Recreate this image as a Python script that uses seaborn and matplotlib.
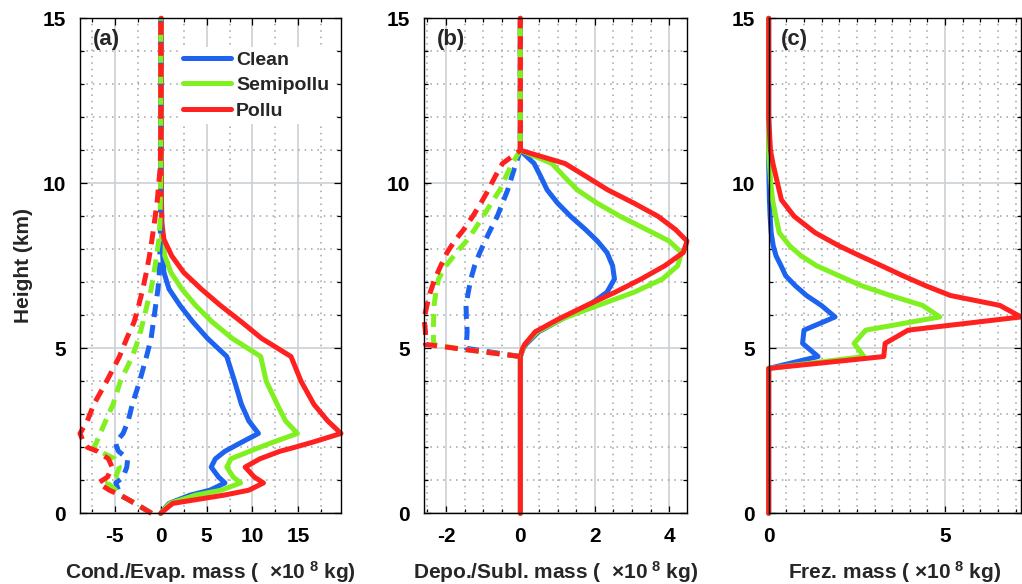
import matplotlib
matplotlib.use("Agg")
import matplotlib.pyplot as plt
from matplotlib.ticker import MultipleLocator
import seaborn as sns

sns.set_style("ticks")
plt.rcParams["font.family"] = ["Liberation Sans", "DejaVu Sans"]
plt.rcParams["font.weight"] = "bold"
plt.rcParams["axes.unicode_minus"] = False
plt.rcParams["mathtext.fontset"] = "custom"
plt.rcParams["mathtext.rm"] = "Liberation Sans:bold"
plt.rcParams["mathtext.bf"] = "Liberation Sans:bold"
plt.rcParams["mathtext.it"] = "Liberation Sans:bold"

# ---------------- data ----------------
cases = ["Clean", "Semipollu", "Pollu"]

# (a) condensation (+) / evaporation (-), 1e8 kg
height_a = [0.0, 0.3, 0.55, 0.7, 0.92, 1.1, 1.4, 1.65, 1.88, 2.0, 2.15, 2.42, 2.8, 3.3,
            4.0, 4.75, 5.3, 5.8, 6.3, 6.8, 7.3, 7.8, 8.3, 8.8, 9.5, 10.5, 11.5, 12.5, 13.5, 15.0]
clean_cond = [0.0, 0.9, 3.2, 5.35, 7.0, 6.3, 5.5, 5.95, 7.0, 7.8, 8.8, 10.65, 9.6, 8.8,
              8.05, 7.2, 5.1, 3.5, 2.1, 0.9, 0.35, 0.22, 0.15, 0.1, 0.08, 0.05, 0.05, 0.05, 0.05, 0.05]
semi_cond = [0.0, 1.0, 3.8, 6.6, 8.7, 7.9, 7.2, 7.65, 9.7, 10.8, 12.2, 14.9, 13.6, 12.7,
             11.5, 10.9, 7.8, 5.6, 3.8, 2.3, 1.1, 0.45, 0.15, 0.1, 0.08, 0.05, 0.05, 0.05, 0.05, 0.05]
pollu_cond = [0.0, 1.3, 6.9, 9.6, 11.2, 10.2, 9.2, 10.8, 13.0, 14.6, 16.5, 19.65, 18.2, 16.7,
              15.3, 14.2, 11.0, 8.8, 6.5, 4.4, 2.5, 1.2, 0.35, 0.12, 0.08, 0.05, 0.05, 0.05, 0.05, 0.05]
clean_evap = [-1.0, -2.8, -4.4, -4.6, -4.9, -4.1, -3.7, -3.6, -4.6, -4.8, -4.9, -4.1, -3.55, -3.1,
              -2.3, -1.55, -1.05, -0.8, -0.55, -0.3, -0.15, -0.1, -0.05, -0.03, -0.02, 0.0, 0.0, 0.0, 0.0, 0.0]
semi_evap = [-1.0, -2.8, -4.4, -4.9, -5.8, -4.9, -4.5, -5.0, -6.7, -7.3, -7.0, -6.6, -6.0, -5.2,
             -4.4, -3.1, -2.4, -1.93, -1.5, -1.04, -0.73, -0.45, -0.2, -0.08, -0.04, 0.0, 0.0, 0.0, 0.0, 0.0]
pollu_evap = [-1.0, -2.8, -4.4, -5.6, -6.8, -5.8, -5.3, -5.7, -6.9, -8.0, -8.4, -8.8, -8.0, -7.3,
              -5.9, -4.5, -3.7, -2.9, -2.4, -1.95, -1.57, -1.23, -0.95, -0.7, -0.37, -0.05, 0.0, 0.0, 0.0, 0.0]

# (b) deposition (+) / sublimation (-), 1e8 kg
height_b = [0.0, 4.75, 5.0, 5.12, 5.5, 5.9, 6.3, 6.7, 7.1, 7.5, 7.9, 8.25, 8.6, 9.0, 9.4,
            9.8, 10.2, 10.6, 11.0, 12.0, 13.0, 14.0, 15.0]
clean_depo = [0.0, 0.0, 0.08, 0.15, 0.49, 1.14, 1.84, 2.33, 2.53, 2.48, 2.33, 2.07, 1.75, 1.35, 1.0,
              0.72, 0.55, 0.37, 0.0, 0.0, 0.0, 0.0, 0.0]
semi_depo = [0.0, 0.0, 0.08, 0.12, 0.45, 1.14, 2.09, 3.06, 3.82, 4.23, 4.33, 4.0, 3.39, 2.68, 2.06,
             1.53, 1.18, 0.85, 0.0, 0.0, 0.0, 0.0, 0.0]
pollu_depo = [0.0, 0.0, 0.06, 0.12, 0.4, 1.05, 1.78, 2.55, 3.25, 3.88, 4.38, 4.48, 4.17, 3.7, 3.05,
              2.35, 1.78, 1.2, 0.0, 0.0, 0.0, 0.0, 0.0]
height_subl = [4.75, 5.0, 5.12, 5.5, 5.9, 6.3, 6.7, 7.1, 7.5, 7.9, 8.25, 8.6, 9.0, 9.4,
               9.8, 10.2, 10.6, 11.0, 12.0, 13.0, 14.0, 15.0]
clean_subl = [0.0, -1.45, -1.45, -1.43, -1.45, -1.46, -1.40, -1.33, -1.23, -1.09, -0.95, -0.8, -0.62,
              -0.48, -0.34, -0.23, -0.12, 0.0, 0.0, 0.0, 0.0, 0.0]
semi_subl = [0.0, -1.72, -2.33, -2.34, -2.33, -2.32, -2.27, -2.2, -2.0, -1.72, -1.45, -1.23, -1.0,
             -0.78, -0.55, -0.39, -0.22, 0.0, 0.0, 0.0, 0.0, 0.0]
pollu_subl = [0.0, -1.75, -2.55, -2.55, -2.59, -2.51, -2.42, -2.3, -2.14, -1.97, -1.77, -1.52, -1.28,
              -1.06, -0.86, -0.68, -0.48, 0.0, 0.0, 0.0, 0.0, 0.0]

# (c) freezing, 1e8 kg
height_c = [0.0, 4.39, 4.75, 5.15, 5.55, 5.95, 6.3, 6.6, 6.9, 7.2, 7.5, 7.8, 8.1, 8.5, 9.0,
            9.5, 10.0, 10.6, 11.0, 12.0, 13.0, 14.0, 15.0]
clean_frez = [0.0, 0.0, 1.4, 0.96, 1.0, 1.88, 1.49, 1.07, 0.75, 0.48, 0.35, 0.21, 0.13, 0.07, 0.04,
              0.02, 0.01, 0.0, 0.0, 0.0, 0.0, 0.0, 0.0]
semi_frez = [0.0, 0.0, 2.7, 2.42, 2.75, 4.85, 4.36, 3.45, 2.62, 1.99, 1.36, 0.92, 0.6, 0.3, 0.2,
             0.11, 0.06, 0.02, 0.0, 0.0, 0.0, 0.0, 0.0]
pollu_frez = [0.0, 0.0, 3.26, 3.3, 3.95, 7.15, 6.55, 5.15, 4.44, 3.8, 3.2, 2.59, 2.0, 1.32, 0.72,
              0.36, 0.25, 0.12, 0.05, 0.0, 0.0, 0.0, 0.0]

xlabels = [r"Cond./Evap. mass (  $\times$10$^{\ 8}$ kg)",
           r"Depo./Subl. mass (  $\times$10$^{\ 8}$ kg)",
           r"Frez. mass ( $\times$10$^{\ 8}$ kg)"]
panel_tags = ["(a)", "(b)", "(c)"]

# ---------------- style ----------------
colors = {"Clean": "#1e62f0", "Semipollu": "#80f020", "Pollu": "#ff2020"}
LW = 3.6
DASH = (2.6, 1.6)
FS = 15

W, H = 1022, 584
def frame(left, right, top=18.3, bottom=513.3):
    return [left / W, 1 - bottom / H, (right - left) / W, (bottom - top) / H]

fig = plt.figure(figsize=(W / 100, H / 100), dpi=100)
ax_a = fig.add_axes(frame(80, 341))
ax_b = fig.add_axes(frame(424, 687))
ax_c = fig.add_axes(frame(768.7, 1021))


def profiles(ax, heights, series, dashed=False):
    for case, vals in zip(cases, series):
        sns.lineplot(x=vals, y=heights, sort=False, estimator=None, orient="y",
                     color=colors[case], linewidth=LW, ax=ax, legend=False)
        line = ax.lines[-1]
        line.set_solid_joinstyle("round")
        line.set_clip_on(False)
        if dashed:
            line.set_dashes(DASH)
            line.set_dash_capstyle("butt")


profiles(ax_a, height_a, [clean_cond, semi_cond, pollu_cond])
legend_lines = list(ax_a.lines[:3])
profiles(ax_a, height_a, [clean_evap, semi_evap, pollu_evap], dashed=True)

profiles(ax_b, height_b, [clean_depo, semi_depo, pollu_depo])
profiles(ax_b, height_subl, [clean_subl, semi_subl, pollu_subl], dashed=True)

profiles(ax_c, height_c, [clean_frez, semi_frez, pollu_frez])

xlims = [(min(pollu_evap), max(pollu_cond)),
         (min(pollu_subl), max(pollu_depo)),
         (0, max(pollu_frez))]
xmajor = [[-5, 0, 5, 10, 15], [-2, 0, 2, 4], [0, 5]]
xminor = [2.5, 0.5, 0.5]

for ax, xl, xt, xm, lab, tag in zip([ax_a, ax_b, ax_c], xlims, xmajor, xminor, xlabels, panel_tags):
    ax.set_xlim(*xl)
    ax.set_ylim(0, 15)
    ax.set_xticks(xt)
    ax.set_yticks([0, 5, 10, 15])
    ax.xaxis.set_minor_locator(MultipleLocator(xm))
    ax.yaxis.set_minor_locator(MultipleLocator(1))
    ax.grid(which="major", color="#c9d1d5", linestyle="-", linewidth=1.2)
    ax.grid(which="minor", color="#9ea3a6", linestyle=(0, (1, 3.2)), linewidth=1.1)
    ax.set_axisbelow(True)
    ax.tick_params(which="both", direction="in", top=True, right=True, width=0.9,
                   labelsize=FS, pad=10, colors="black")
    ax.tick_params(which="major", length=5)
    ax.tick_params(which="minor", length=3)
    for s in ax.spines.values():
        s.set_color("black")
        s.set_linewidth(1.0)
    ax.set_xlabel(lab, fontsize=FS, fontweight="bold", labelpad=9)
    ax.set_ylabel("")
    ax.text(0.048, 0.957, tag, transform=ax.transAxes, fontsize=16, fontweight="bold",
            ha="left", va="center")

ax_a.set_ylabel("Height (km)", fontsize=FS, fontweight="bold", labelpad=7)

leg = ax_a.legend(legend_lines, cases, loc="upper right", bbox_to_anchor=(0.97, 0.942),
                  frameon=True, fancybox=False, framealpha=1, facecolor="white",
                  edgecolor="none", fontsize=14, handlelength=2.5, handletextpad=0.25,
                  labelspacing=0.42, borderpad=0.2, borderaxespad=0)
leg.set_zorder(5)
for t in leg.get_texts():
    t.set_fontweight("bold")

fig.savefig("out.png", dpi=100)
